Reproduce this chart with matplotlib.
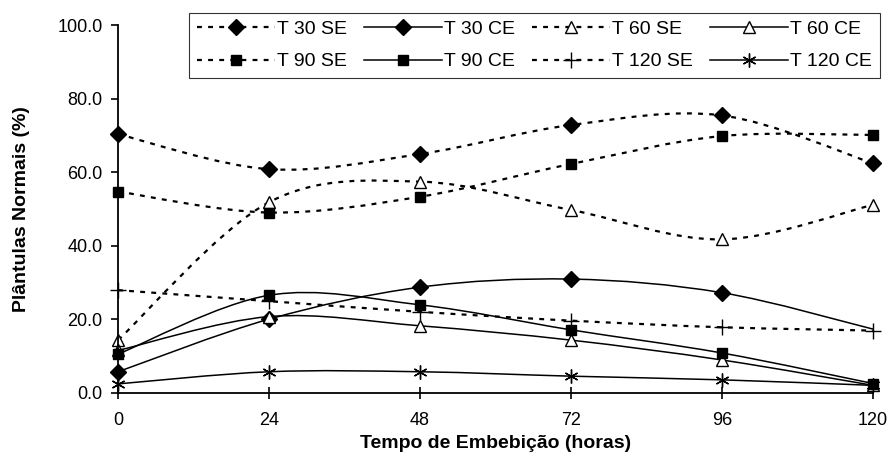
import numpy as np
import matplotlib
matplotlib.use("Agg")
import matplotlib.pyplot as plt
from matplotlib.path import Path
from matplotlib.patches import PathPatch
from matplotlib.lines import Line2D

plt.rcParams['font.family'] = ['Liberation Sans', 'DejaVu Sans']

# Dados
horas = [0, 24, 48, 72, 96, 120]
t30_se = [70.3, 60.8, 64.9, 72.8, 75.4, 62.4]
t30_ce = [5.7, 20.0, 28.7, 30.9, 27.2, 17.3]
t60_se = [14.3, 51.8, 57.4, 49.7, 41.7, 51.1]
t60_ce = [11.5, 20.7, 18.2, 14.3, 8.9, 2.0]
t90_se = [54.7, 49.0, 53.3, 62.2, 69.8, 70.1]
t90_ce = [10.5, 26.5, 23.9, 17.1, 10.8, 2.5]
t120_se = [27.9, 24.9, 22.0, 19.6, 17.8, 16.9]
t120_ce = [2.4, 5.7, 5.7, 4.5, 3.5, 2.0]


def curva_suave(x, y):
    # curva tipo Excel (Bezier cúbica com tangentes de Catmull-Rom)
    p = np.column_stack([x, y]).astype(float)
    n = len(p)
    verts = [p[0]]
    codes = [Path.MOVETO]
    for i in range(n - 1):
        p0 = p[max(i - 1, 0)]
        p1 = p[i]
        p2 = p[i + 1]
        p3 = p[min(i + 2, n - 1)]
        c1 = p1 + (p2 - p0) / 6.0
        c2 = p2 - (p3 - p1) / 6.0
        verts += [c1, c2, p2]
        codes += [Path.CURVE4] * 3
    return Path(verts, codes)


series = [
    ('T 30 SE', t30_se, 'D', 'black', 'dash'),
    ('T 30 CE', t30_ce, 'D', 'black', 'solid'),
    ('T 60 SE', t60_se, '^', 'white', 'dash'),
    ('T 60 CE', t60_ce, '^', 'white', 'solid'),
    ('T 90 SE', t90_se, 's', 'black', 'dash'),
    ('T 90 CE', t90_ce, 's', 'black', 'solid'),
    ('T 120 SE', t120_se, '+', 'black', 'dash'),
    ('T 120 CE', t120_ce, (6, 2, 0), 'black', 'solid'),
]
tamanhos = {'D': 8.3, '^': 8.5, 's': 7.8, '+': 11}

fig = plt.figure(figsize=(8.92, 4.63), dpi=100)
ax = fig.add_axes([0.1323, 0.1518, 0.8464, 0.7942])

handles = []
for nome, vals, mk, fc, estilo in series:
    if estilo == 'dash':
        ls = (0, (2.2, 2.8))
        lw = 1.6
    else:
        ls = '-'
        lw = 1.1
    patch = PathPatch(curva_suave(horas, vals), fill=False, edgecolor='black',
                      linewidth=lw, linestyle=ls, zorder=2)
    ax.add_patch(patch)
    ms = tamanhos.get(mk, 10)
    # no original o último losango de T 30 CE não aparece
    marcas = list(range(5)) if nome == 'T 30 CE' else None
    ax.plot(horas, vals, linestyle='none', marker=mk, markersize=ms, markevery=marcas,
            markerfacecolor=fc, markeredgecolor='black', markeredgewidth=1.0,
            zorder=3, clip_on=False)
    handles.append(Line2D([], [], color='black', linewidth=lw, linestyle=ls, marker=mk,
                          markersize=ms, markerfacecolor=fc, markeredgecolor='black',
                          markeredgewidth=1.0, label=nome))

ax.set_xlim(0, 120)
ax.set_ylim(0, 100)
ax.set_xticks(horas)
ax.set_yticks(np.arange(0, 101, 20))
ax.set_yticklabels([f'{v:.1f}' for v in np.arange(0, 101, 20)])
ax.spines['top'].set_visible(False)
ax.spines['right'].set_visible(False)
ax.spines['left'].set_linewidth(1.3)
ax.spines['bottom'].set_linewidth(1.3)
ax.spines['left'].set_zorder(4)
ax.spines['bottom'].set_zorder(4)
ax.tick_params(axis='x', direction='inout', length=8, width=1.2, labelsize=13, pad=10)
ax.tick_params(axis='y', direction='out', length=5, width=1.2, labelsize=13, pad=6)

ax.set_xlabel('Tempo de Embebição (horas)', fontsize=14, fontweight='bold', labelpad=4)
ax.set_ylabel('Plântulas Normais (%)', fontsize=14, fontweight='bold', labelpad=20)

# legenda em linhas: reordenar para preencher por linha
ordem = [0, 4, 1, 5, 2, 6, 3, 7]
leg = ax.legend([handles[i] for i in ordem], [handles[i].get_label() for i in ordem],
                ncol=4, loc='upper right', bbox_to_anchor=(1.009, 1.033),
                borderaxespad=0, fontsize=14, frameon=True, fancybox=False,
                handlelength=4.0, handletextpad=0.1, columnspacing=0.9,
                labelspacing=0.75, borderpad=0.4)
leg.get_frame().set_edgecolor('black')
leg.get_frame().set_linewidth(0.8)

fig.savefig('out.png', dpi=100)
